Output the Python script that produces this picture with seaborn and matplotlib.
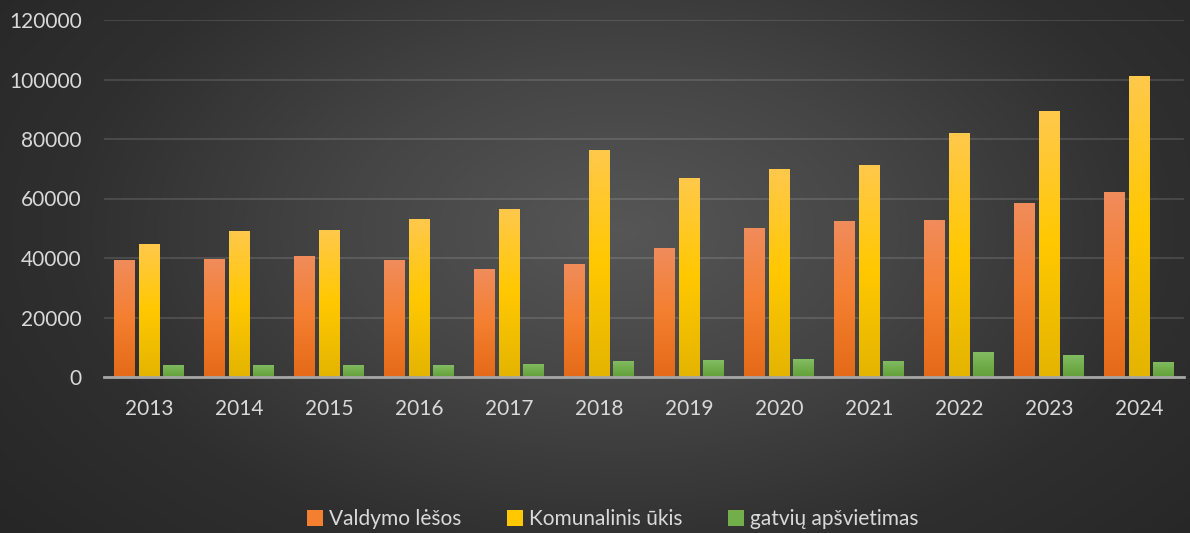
import numpy as np
import pandas as pd
import matplotlib.pyplot as plt
import seaborn as sns
from matplotlib.colors import LinearSegmentedColormap
from matplotlib.patches import Patch

# Duomenys (nuskaityti nuo grafiko)
metai = ["2013", "2014", "2015", "2016", "2017", "2018",
         "2019", "2020", "2021", "2022", "2023", "2024"]
valdymo_lesos = [39400, 39700, 40700, 39300, 36300, 38000,
                 43400, 50100, 52500, 52800, 58500, 62200]
komunalinis_ukis = [44800, 49100, 49500, 53100, 56500, 76300,
                    66900, 69900, 71300, 82100, 89400, 101200]
gatviu_apsvietimas = [4100, 4100, 4100, 4000, 4400, 5400,
                      5700, 6000, 5500, 8500, 7500, 5100]
serijos = ["Valdymo lėšos", "Komunalinis ūkis", "gatvių apšvietimas"]

df = pd.DataFrame({
    "metai": metai,
    serijos[0]: valdymo_lesos,
    serijos[1]: komunalinis_ukis,
    serijos[2]: gatviu_apsvietimas,
}).melt(id_vars="metai", var_name="serija", value_name="suma")

# Spalvų gradientai (viršus -> vidurys -> apačia)
gradientai = [
    ["#F08C5C", "#F47F30", "#E46A18"],
    ["#FFC84C", "#FFC800", "#E4B400"],
    ["#84BC64", "#72AE4C", "#62A03A"],
]
vid_spalvos = ["#F47F30", "#FFC800", "#72AE4C"]
teksto_spalva = "#D9D9D9"

sns.set_theme(style="dark")
plt.rcParams['font.family'] = ['Lato', 'DejaVu Sans']

fig = plt.figure(figsize=(11.9, 5.33), dpi=100)

# Radialinis fonas
bg = fig.add_axes([0, 0, 1, 1], zorder=-10)
yy, xx = np.mgrid[0:533, 0:1190]
r = np.sqrt(((xx - 620) / 720) ** 2 + ((yy - 230) / 430) ** 2)
bg_cmap = LinearSegmentedColormap.from_list("bg", ["#565656", "#454545", "#2f2f2f", "#252525"])
bg.imshow(r, cmap=bg_cmap, aspect="auto", extent=[0, 1, 0, 1], vmin=0, vmax=1.15)
bg.axis("off")

ax = fig.add_axes([104 / 1190, 1 - 377 / 533, 1080 / 1190, 357 / 533])
ax.patch.set_alpha(0)

sns.barplot(data=df, x="metai", y="suma", hue="serija", palette=vid_spalvos,
            width=0.833, gap=0.16, saturation=1, legend=False, ax=ax,
            linewidth=0, edgecolor="none")

# Gradientas kiekvienam stulpeliui
grad = np.linspace(1, 0, 256).reshape(-1, 1)
for i, cont in enumerate(ax.containers):
    cmap = LinearSegmentedColormap.from_list(f"g{i}", gradientai[i][::-1])
    for bar in cont:
        x0 = bar.get_x()
        w = bar.get_width()
        h = bar.get_height()
        im = ax.imshow(grad, cmap=cmap, vmin=0, vmax=1, aspect="auto",
                       extent=[x0, x0 + w, 0, h], zorder=bar.get_zorder() + 0.1)
        im.set_clip_path(bar)

ax.set_xlim(-0.5, len(metai) - 0.5)
ax.set_ylim(0, 120000)
ax.set_yticks(range(0, 120001, 20000))

ax.yaxis.grid(True, color="white", alpha=0.12, linewidth=1.5)
ax.xaxis.grid(False)
ax.set_axisbelow(True)
for s in ["top", "right", "left"]:
    ax.spines[s].set_visible(False)
ax.spines["bottom"].set_color("#A6A6A6")
ax.spines["bottom"].set_linewidth(2)
ax.spines["bottom"].set_zorder(5)

ax.tick_params(axis="x", colors=teksto_spalva, labelsize=15, length=0, pad=16)
ax.tick_params(axis="y", colors=teksto_spalva, labelsize=15, length=0, pad=16)
ax.set_xlabel("")
ax.set_ylabel("")

handles = [Patch(facecolor=c, edgecolor="none") for c in vid_spalvos]
fig.legend(handles, serijos, loc="lower center", bbox_to_anchor=(0.515, -0.028),
           ncol=3, frameon=False, handlelength=0.75, handleheight=0.75,
           handletextpad=0.3, columnspacing=2.2, labelcolor=teksto_spalva, fontsize=15)

fig.savefig("out.png", dpi=100)
